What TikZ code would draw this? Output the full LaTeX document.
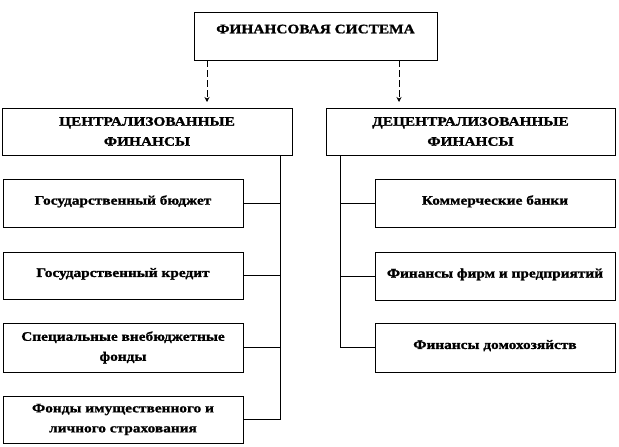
\documentclass[tikz,border=0pt]{standalone}
\usepackage{fontspec}
\setmainfont{Liberation Serif}
\newfontfamily\boxfont[FakeStretch=1.18,FakeBold=1.2]{Liberation Serif}
\usetikzlibrary{arrows.meta,shadows}
\begin{document}
\begin{tikzpicture}[x=1pt,y=-1pt,
  box/.style={draw=black, line width=0.6pt, fill=white,
    drop shadow={shadow xshift=1.3pt, shadow yshift=-1.3pt, fill=black, opacity=1},
    font=\boxfont\bfseries\fontsize{13}{20}\selectfont, align=center, inner sep=0pt,
    minimum width=240pt, minimum height=48pt},
  link/.style={draw=black, line width=0.7pt},
  dlink/.style={draw=black, line width=0.7pt, dash pattern=on 7pt off 3pt,
    -{Stealth[length=5pt,width=5pt]}}]
\useasboundingbox (0,0) rectangle (619,447);
\node[box, minimum width=243pt, text depth=14pt] (top) at (315.5,36) {ФИНАНСОВАЯ СИСТЕМА};
\node[box, minimum width=290pt, minimum height=47pt] (cen) at (147,131.5) {ЦЕНТРАЛИЗОВАННЫЕ\\ФИНАНСЫ};
\node[box, minimum width=289pt, minimum height=47pt] (dec) at (470.5,131.5) {ДЕЦЕНТРАЛИЗОВАННЫЕ\\ФИНАНСЫ};
\node[box, text depth=6pt] (l1) at (123,203) {Государственный бюджет};
\node[box, minimum height=47pt, text depth=6pt] (l2) at (123,275.5) {Государственный кредит};
\node[box, minimum height=49pt] (l3) at (123,347.5) {Специальные внебюджетные\\фонды};
\node[box, minimum height=47pt] (l4) at (123,419.5) {Фонды имущественного и\\личного страхования};
\node[box, text depth=6pt] (r1) at (495,203) {Коммерческие банки};
\node[box, text depth=6pt] (r2) at (495,276) {Финансы фирм и предприятий};
\node[box, minimum height=49pt, text depth=6pt] (r3) at (495,347.5) {Финансы домохозяйств};
\coordinate (a1) at (207,102);
\coordinate (a2) at (399,102);
\draw[dlink] (a1 |- top.south) -- (a1);
\draw[dlink] (a2 |- top.south) -- (a2);
\coordinate (lt) at (280,155);
\coordinate (rt) at (340,155);
\draw[link] (lt |- cen.south) |- (l4.east);
\draw[link] (l1.east) -- (l1.east -| lt);
\draw[link] (l2.east) -- (l2.east -| lt);
\draw[link] (l3.east) -- (l3.east -| lt);
\draw[link] (rt |- dec.south) |- (r3.west);
\draw[link] (r1.west) -- (r1.west -| rt);
\draw[link] (r2.west) -- (r2.west -| rt);
\end{tikzpicture}
\end{document}
